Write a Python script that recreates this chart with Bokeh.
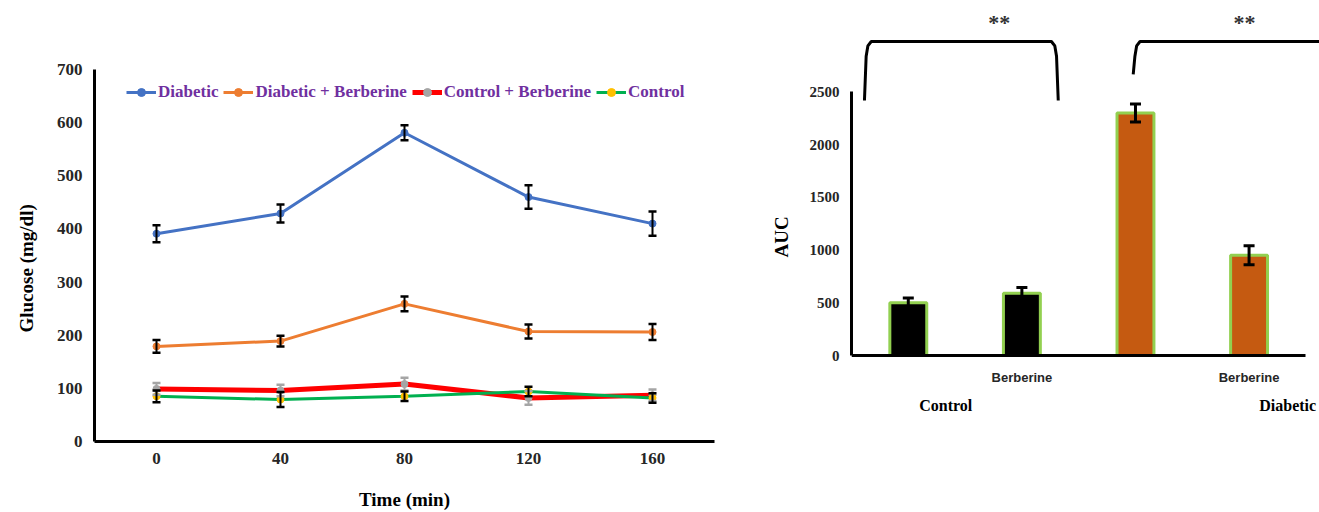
from bokeh.plotting import figure
from bokeh.layouts import row
from bokeh.models import (ColumnDataSource, Whisker, TeeHead, Legend, LegendItem,
                          FixedTicker, Title)
from bokeh.core.properties import value
from bokeh.embed import file_html
from bokeh.resources import INLINE

# ---------------- data: glucose tolerance (left) ----------------
time_min = [0, 40, 80, 120, 160]
diabetic = [391, 429, 581, 460, 410]
diabetic_err = [16, 17, 14, 22, 23]
diab_berb = [179, 189, 259, 207, 206]
diab_berb_err = [12, 10, 14, 13, 15]
ctrl_berb = [99, 96, 108, 82, 87]
ctrl_berb_err = [11, 11, 12, 13, 11]
control = [85, 79, 85, 94, 82]
control_err = [11, 14, 9, 9, 9]
series_names = ["Diabetic", "Diabetic + Berberine", "Control + Berberine", "Control"]
glucose_ticks = [0, 100, 200, 300, 400, 500, 600, 700]

# ---------------- data: AUC (right) ----------------
auc_groups = ["Control", "Control + Berberine", "Diabetic", "Diabetic + Berberine"]
auc_values = [500, 590, 2300, 950]
auc_err = [45, 55, 85, 90]
auc_ticks = [0, 500, 1000, 1500, 2000, 2500]
sub_labels = ["", "Berberine", "", "Berberine"]
group_labels = ["Control", "Diabetic"]
sig_labels = ["**", "**"]

SERIF = "Liberation Serif"
SANS = "Liberation Sans"
TXT = "#262626"

# frames of both charts share top (7 px) and bottom (441 px)
# ======================= LEFT CHART =======================
p1 = figure(width=740, height=512, x_range=(-20, 180), y_range=(0, 816.7),
            output_backend="svg", toolbar_location=None,
            min_border_left=93, min_border_right=26, min_border_top=7, min_border_bottom=71)
p1.outline_line_color = None
p1.grid.visible = False

for ax in (p1.xaxis[0], p1.yaxis[0]):
    ax.axis_line_color = "black"
    ax.axis_line_width = 3
    ax.major_tick_line_color = None
    ax.minor_tick_line_color = None
    ax.major_tick_out = 0
    ax.major_tick_in = 0
    ax.major_label_text_font = SERIF
    ax.major_label_text_font_style = "bold"
    ax.major_label_text_font_size = "17px"
    ax.major_label_text_color = TXT

p1.xaxis.ticker = FixedTicker(ticks=time_min)
p1.yaxis.ticker = FixedTicker(ticks=glucose_ticks)
p1.yaxis.bounds = (0, glucose_ticks[-1])
p1.xaxis.major_label_standoff = 11
p1.yaxis.major_label_standoff = 12
p1.xaxis.axis_label = "Time (min)"
p1.xaxis.axis_label_standoff = 22
p1.xaxis.axis_label_text_font = SERIF
p1.xaxis.axis_label_text_font_style = "bold"
p1.xaxis.axis_label_text_font_size = "19px"
p1.xaxis.axis_label_text_color = "black"

p1.add_layout(Title(text="Glucose (mg/dl)", align="left", vertical_align="top",
                    offset=109, standoff=30, text_font=SERIF, text_font_style="bold",
                    text_font_size="19px", text_color="black"), "left")

series = [
    (diabetic, diabetic_err, "#4472C4", "#4472C4", 3, "black"),
    (diab_berb, diab_berb_err, "#ED7D31", "#ED7D31", 3, "black"),
    (ctrl_berb, ctrl_berb_err, "#FF0000", "#A5A5A5", 5, "#A5A5A5"),
    (control, control_err, "#00B050", "#FFC000", 3, "black"),
]

items = []
for name, (vals, errs, lc, mc, lw, ec) in zip(series_names, series):
    src = ColumnDataSource(dict(x=time_min, y=vals,
                                lo=[v - e for v, e in zip(vals, errs)],
                                hi=[v + e for v, e in zip(vals, errs)]))
    lr = p1.line("x", "y", source=src, line_color=lc, line_width=lw)
    sr = p1.scatter("x", "y", source=src, size=7, fill_color=mc, line_color=mc)
    w = Whisker(base="x", lower="lo", upper="hi", source=src, line_color=ec, line_width=2,
                upper_head=TeeHead(size=8, line_color=ec, line_width=2.5),
                lower_head=TeeHead(size=8, line_color=ec, line_width=2.5),
                level="annotation")
    p1.add_layout(w)
    items.append(LegendItem(label=name, renderers=[lr, sr]))

leg = Legend(items=items, orientation="horizontal", location=(32, 339),
             label_text_font=SERIF, label_text_font_style="bold",
             label_text_font_size="17px", label_text_color="#7030A0",
             glyph_width=30, glyph_height=20, label_standoff=2, spacing=5,
             padding=0, margin=0, border_line_color=None, background_fill_alpha=0)
p1.add_layout(leg, "center")

# ======================= RIGHT CHART =======================
p2 = figure(width=579, height=512, x_range=(0, 4.12), y_range=(-815, 3300),
            output_backend="svg", toolbar_location=None,
            min_border_left=111, min_border_right=0, min_border_top=7, min_border_bottom=71)
p2.outline_line_color = None
p2.grid.visible = False

xpos = [i + 0.5 for i in range(len(auc_groups))]
bar_colors = ["black", "black", "#C55A11", "#C55A11"]
bsrc = ColumnDataSource(dict(x=xpos, top=auc_values, color=bar_colors,
                             lo=[v - e for v, e in zip(auc_values, auc_err)],
                             hi=[v + e for v, e in zip(auc_values, auc_err)]))
p2.vbar(x="x", top="top", bottom=0, width=0.325, source=bsrc, fill_color="color",
        line_color="#92D050", line_width=3)
p2.add_layout(Whisker(base="x", lower="lo", upper="hi", source=bsrc, line_color="black",
                      line_width=3, level="annotation",
                      upper_head=TeeHead(size=11, line_color="black", line_width=3),
                      lower_head=TeeHead(size=11, line_color="black", line_width=3)))

xa = p2.xaxis[0]
ya = p2.yaxis[0]
for ax in (xa, ya):
    ax.axis_line_color = "black"
    ax.axis_line_width = 3
    ax.major_tick_line_color = None
    ax.minor_tick_line_color = None
    ax.major_tick_out = 0
    ax.major_tick_in = 0
xa.fixed_location = 0
xa.bounds = (0, len(auc_groups))
ya.bounds = (0, auc_ticks[-1])
ya.ticker = FixedTicker(ticks=auc_ticks)
ya.major_label_text_font = SERIF
ya.major_label_text_font_style = "bold"
ya.major_label_text_font_size = "15px"
ya.major_label_text_color = TXT
ya.major_label_standoff = 12

sub_pos = [x for x, s in zip(xpos, sub_labels) if s]
xa.ticker = FixedTicker(ticks=sub_pos)
xa.major_label_overrides = {x: s for x, s in zip(xpos, sub_labels) if s}
xa.major_label_text_font = SANS
xa.major_label_text_font_style = "bold"
xa.major_label_text_font_size = "13px"
xa.major_label_text_color = TXT
xa.major_label_standoff = 14

p2.add_layout(Title(text="AUC", align="left", vertical_align="bottom",
                    offset=184, standoff=30, text_font=SERIF, text_font_style="bold",
                    text_font_size="19px", text_color="black"), "left")

# group labels below the sub labels
group_label_x = [0.83, 3.84]
p2.text(x=group_label_x, y=[-474, -474], text=group_labels, text_font=value(SERIF),
        text_font_style="bold", text_font_size="16px", text_align="center",
        text_baseline="middle", text_color="black")

# significance brackets
def bracket(x0, x1, y_left, y_right, y_top):
    dx, dy = 0.06, 70
    xs = [x0, x0 + 0.015, x0 + 0.03, x0 + dx, x1 - dx, x1 - 0.03, x1 - 0.015, x1]
    ys = [y_left, y_top - 2 * dy, y_top - dy * 0.6, y_top, y_top, y_top - dy * 0.6,
          y_top - 2 * dy, y_right]
    return xs, ys

top_y = 2978
bx1, by1 = bracket(xpos[0] - 0.386, xpos[1] + 0.32, 2418, 2418, top_y)
bx2, by2 = bracket(xpos[2] - 0.02, xpos[3] + 1.2, 2665, 2665, top_y)
p2.line(bx1, by1, line_color="black", line_width=3)
p2.line(bx2, by2, line_color="black", line_width=3)
p2.text(x=[1.30, 3.46], y=[3160, 3160], text=sig_labels, text_font=value(SERIF),
        text_font_style="bold", text_font_size="22px", text_align="center",
        text_baseline="middle", text_color="#333333")

layout = row(p1, p2, spacing=0)
open("out.html", "w").write(file_html(layout, INLINE))
